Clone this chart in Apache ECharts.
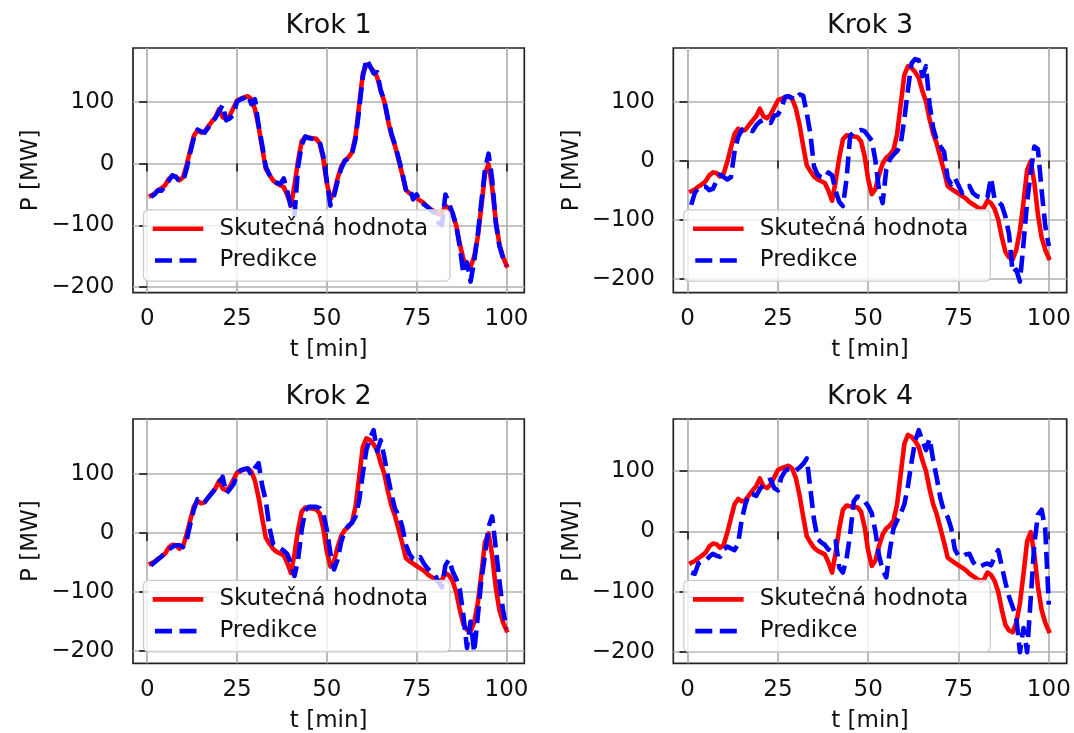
<!DOCTYPE html>
<html>
<head>
<meta charset="utf-8">
<script src="https://cdn.jsdelivr.net/npm/echarts@6/dist/echarts.min.js"></script>
<style>html,body{margin:0;padding:0;background:#fff}#c{width:1074px;height:733px}</style>
</head>
<body>
<div id="c"></div>
<script>
// time axis [min]
const T = [1,2,3,4,5,6,7,8,9,10,11,12,13,14,15,16,17,18,19,20,
  21,22,23,24,25,26,27,28,29,30,31,32,33,34,35,36,37,38,39,40,
  41,42,43,44,45,46,47,48,49,50,51,52,53,54,55,56,57,58,59,60,
  61,62,63,64,65,66,67,68,69,70,71,72,73,74,75,76,77,78,79,80,
  81,82,83,84,85,86,87,88,89,90,91,92,93,94,95,96,97,98,99,100];

// actual value (same in all panels)
const ACTUAL = [-52,-49,-44,-40,-35,-25,-20,-21,-27,-22,
  -2,22,45,54,50,52,60,68,75,88,
  75,72,78,90,102,105,107,109,104,88,
  60,25,-8,-18,-27,-32,-35,-38,-51,-68,
  -35,5,36,43,42,41,40,33,8,-32,
  -57,-48,-24,-5,5,10,18,45,95,145,
  160,157,150,140,118,100,70,45,28,5,
  -18,-43,-48,-52,-56,-60,-64,-70,-74,-78,
  -82,-80,-68,-72,-82,-100,-130,-155,-164,-167,
  -151,-119,-70,-16,-1,-38,-92,-130,-151,-165];

const PRED_1 = [-54,-50,-43,-44,-36,-28,-19,-22,-29,-28,
  -8,18,42,55,52,50,58,66,74,84,
  95,70,73,79,100,104,106,111,96,104,
  62,30,-5,-18,-25,-31,-33,-24,-45,-70,
  -84,-5,30,44,41,40,39,35,12,-28,
  -68,-52,-28,-8,4,9,16,40,88,140,
  169,158,146,148,118,102,73,48,30,8,
  -15,-42,-38,-58,-50,-62,-66,-70,-76,-80,
  -95,-100,-50,-65,-80,-100,-135,-178,-160,-191,
  -158,-115,-62,-10,16,-25,-95,-133,-152,-165];

const PRED_2 = [-55,-50,-45,-40,-33,-28,-24,-21,-21,-24,
  -12,15,40,57,52,52,60,67,75,84,
  95,67,74,82,100,106,108,109,98,110,
  118,80,55,10,-18,-22,-26,-30,-36,-52,
  -73,-45,5,38,44,44,44,42,33,5,
  -35,-62,-45,-15,4,12,17,28,55,100,
  140,160,174,138,157,128,95,65,40,30,
  10,-20,-36,-44,-46,-41,-52,-60,-66,-70,
  -82,-92,-55,-45,-65,-78,-95,-140,-195,-150,
  -202,-142,-80,-38,10,28,-25,-80,-130,-162];

const PRED_3 = [-75,-55,-46,-44,-44,-50,-48,-35,-24,-28,
  -32,-28,15,40,52,55,52,50,60,66,
  69,66,64,76,78,90,108,109,106,103,
  112,110,80,45,-10,-24,-28,-30,-20,-25,
  -52,-70,-77,-32,42,48,50,52,50,42,
  34,0,-50,-72,-15,2,10,16,28,70,
  120,165,172,170,143,160,95,55,34,24,
  15,-30,-40,-30,-42,-55,-48,-43,-55,-60,
  -62,-65,-62,-29,-66,-70,-76,-95,-125,-190,
  -185,-205,-140,-70,-20,24,19,-50,-110,-145];

const PRED_4 = [-68,-70,-53,-50,-48,-42,-37,-40,-42,-30,
  -25,-28,-31,-20,20,45,62,62,59,70,
  78,84,86,72,68,90,100,104,102,101,
  106,112,121,70,20,-12,-18,-22,-30,-20,
  -16,-60,-68,-45,-5,50,58,56,50,42,
  30,0,-40,-64,-76,-31,5,18,30,45,
  75,115,150,168,150,135,154,118,88,55,
  33,24,5,-30,-40,-42,-38,-37,-50,-58,
  -58,-55,-53,-56,-42,-31,-58,-85,-108,-125,
  -143,-200,-160,-200,-110,-20,28,36,5,-121];

const X_TICKS = [0, 25, 50, 75, 100];
const Y_TICKS = [-200, -100, 0, 100];
const TITLES = ['Krok 1', 'Krok 2', 'Krok 3', 'Krok 4'];
const NAME_ACTUAL = 'Skutečná hodnota';
const NAME_PRED = 'Predikce';
const X_NAME = 't [min]';
const Y_NAME = 'P [MW]';

const PREDS = [PRED_1, PRED_2, PRED_3, PRED_4];
const BOXES = [
  {left: 133,   top: 48,  width: 391.3, height: 244.7},
  {left: 133,   top: 419, width: 391.3, height: 244.3},
  {left: 673.3, top: 48,  width: 393.4, height: 244.7},
  {left: 673.3, top: 419, width: 393.4, height: 244.3}
];

const FONT = 'DejaVu Sans';
const TXT = '#111111';
const FS = 23;
const pairs = (vals) => T.map((t, i) => [t, vals[i]]);
const lo = (v) => v.min - 0.05 * (v.max - v.min);
const hi = (v) => v.max + 0.05 * (v.max - v.min);
const fmt = (v) => String(v).replace('-', '\u2212');

const option = {
  animation: false,
  backgroundColor: '#ffffff',
  title: [], grid: [], xAxis: [], yAxis: [], legend: [], series: []
};

BOXES.forEach((b, i) => {
  option.grid.push({
    left: b.left, top: b.top, width: b.width, height: b.height,
    show: true, borderColor: '#222222', borderWidth: 1.7, backgroundColor: 'transparent',
    containLabel: false, outerBoundsMode: 'none'
  });
  option.title.push({
    text: TITLES[i], left: b.left + b.width / 2, top: b.top - 36, textAlign: 'center', padding: 0,
    textStyle: {fontFamily: FONT, fontSize: 27, fontWeight: 'normal', color: TXT}
  });
  option.xAxis.push({
    type: 'value', gridIndex: i, min: lo, max: hi,
    axisLine: {show: false},
    axisTick: {show: true, inside: false, length: 8, customValues: X_TICKS, lineStyle: {color: '#222222', width: 1.7}},
    axisLabel: {customValues: X_TICKS, margin: 15, fontFamily: FONT, fontSize: FS, color: TXT, formatter: fmt},
    splitLine: {show: true, lineStyle: {color: '#b0b0b0', width: 1.7}},
    name: X_NAME, nameLocation: 'middle', nameGap: 46,
    nameTextStyle: {fontFamily: FONT, fontSize: FS, color: TXT}
  });
  option.yAxis.push({
    type: 'value', gridIndex: i, min: lo, max: hi,
    axisLine: {show: false},
    axisTick: {show: true, inside: false, length: 8, customValues: Y_TICKS, lineStyle: {color: '#222222', width: 1.7}},
    axisLabel: {customValues: Y_TICKS, margin: 18.5, fontFamily: FONT, fontSize: FS, color: TXT, formatter: fmt},
    splitLine: {show: true, lineStyle: {color: '#b0b0b0', width: 1.7}},
    name: Y_NAME, nameLocation: 'middle', nameGap: 90,
    nameTextStyle: {fontFamily: FONT, fontSize: FS, color: TXT}
  });
  option.legend.push({
    orient: 'vertical', left: b.left + 10.5, top: b.top + b.height - 11.5 - 71.4,
    data: [NAME_ACTUAL, NAME_PRED],
    itemWidth: 46, itemHeight: 23, itemGap: 8.7,
    padding: [7.5, 22, 9.2, 9.2],
    backgroundColor: 'rgba(255,255,255,0.8)', borderColor: '#cccccc', borderWidth: 1.3, borderRadius: 5,
    itemStyle: {opacity: 0, borderWidth: 0},
    lineStyle: {width: 4.6, color: 'inherit', type: 'inherit', opacity: 1},
    textStyle: {fontFamily: FONT, fontSize: FS, color: TXT, padding: [0, 0, 0, 13.4]},
    selectedMode: false
  });
  option.series.push({
    type: 'line', name: NAME_ACTUAL, xAxisIndex: i, yAxisIndex: i,
    data: pairs(ACTUAL), symbol: 'none', showSymbol: false,
    color: '#ff0000',
    lineStyle: {color: '#ff0000', width: 4.6, join: 'round', cap: 'square'},
    z: 2
  });
  option.series.push({
    type: 'line', name: NAME_PRED, xAxisIndex: i, yAxisIndex: i,
    data: pairs(PREDS[i]), symbol: 'none', showSymbol: false,
    color: '#0000ff',
    lineStyle: {color: '#0000ff', width: 4.6, type: [17, 7.5], join: 'round', cap: 'butt'},
    z: 3
  });
});

const chart = echarts.init(document.getElementById('c'), null, {renderer: 'canvas'});
chart.setOption(option);
</script>
</body>
</html>
